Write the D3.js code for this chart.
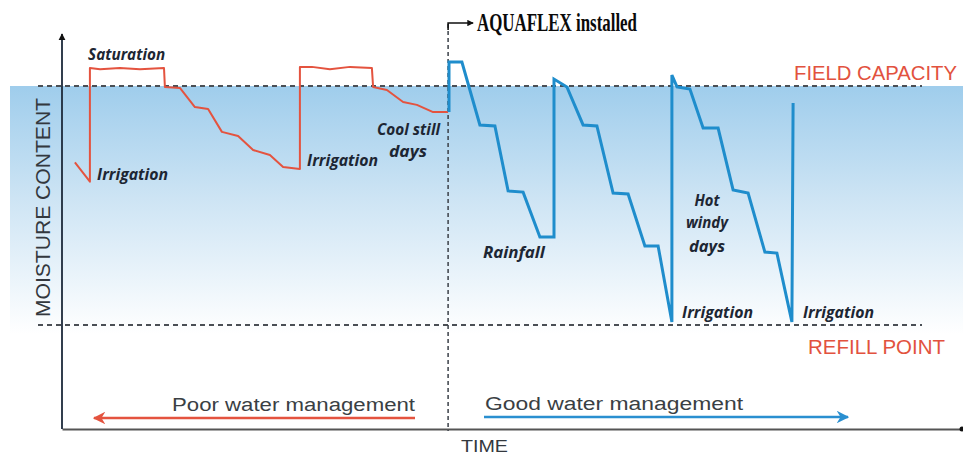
<!DOCTYPE html>
<html lang="en">
<head>
  <meta charset="UTF-8">
  <title>Moisture content over time</title>
  <style>
    body { margin: 0; background: #fff; }
    svg { display: block; }
  </style>
</head>
<body>
  <div id="chart"></div>

  <script src="https://d3js.org/d3.v7.min.js"></script>
  <script>

    // time in days, moisture in % of available water (0 = refill point, 100 = field capacity)
    const redTime = [4.3, 9.3, 9.3, 12.7, 19.3, 26, 34, 34.3, 39.3, 44.3, 48.7, 53.3, 58.7, 63.7, 69.3, 73.7, 79.3,
                     79.3, 83.3, 89.3, 96, 103.3, 103.7, 108.3, 113.7, 118.3, 123.7, 128.7];
    const redMoisture = [68, 60, 107.5, 107, 107.5, 107, 107.5, 99.6, 99.2, 91.2, 90.4, 80.8, 79.1, 73.2, 71.1, 66.1, 65.3,
                         108, 108, 107, 108, 107.5, 99.6, 98.3, 93.3, 92.1, 89.1, 89.1];

    const blueTime = [129, 129, 133.3, 139.3, 144.3, 148.7, 153.7, 159.3, 164,
                      164, 168.3, 173.7, 178.3, 183.7, 188.7, 194.3, 198.7, 203.3,
                      203.3, 205, 209.3, 213.7, 218.7, 223.7, 228.7, 234.3, 238.3, 243.3, 243.7];
    const blueMoisture = [89.1, 110, 110, 83.7, 83.3, 56.1, 55.6, 36.8, 36.8,
                          102.9, 99.6, 83.7, 83.3, 55.2, 54.8, 33.1, 33.1, 1.3,
                          104.6, 99.6, 98.7, 82.4, 82.4, 56.5, 55.2, 30.5, 30.1, 1.3, 92.9];

    const installedDay = 128.7;

    // annotation labels: text, time, moisture (baseline position)
    const noteText = ["Saturation", "Irrigation", "Irrigation", "Cool still", "days", "Rainfall",
                      "Hot", "windy", "days", "Irrigation", "Irrigation"];
    const noteTime = [8.7, 11.7, 81.7, 105, 109, 140.3, 215, 215, 215, 206.7, 247];
    const noteMoisture = [110.7, 60.7, 66.5, 79.5, 70.3, 28, 50, 40.4, 30.6, 2.9, 2.9];
    const noteWidth = [77, 71, 71, 63, 38, 62, 25, 42, 36, 71, 71];
    const noteAnchor = ["start", "start", "start", "start", "start", "start", "middle", "middle", "middle", "start", "start"];

    const width = 963,
          height = 457,
          margin = {top: 86, right: 1, bottom: 132, left: 62};

    const x = d3.scaleLinear([0, 300], [margin.left, width - margin.right]);
    const y = d3.scaleLinear([0, 100], [height - margin.bottom, margin.top]);
    const axisY = 429;

    const svg = d3.select("#chart")
      .append("svg")
      .attr("width", width)
      .attr("height", height)
      .attr("viewBox", [0, 0, width, height]);

    const defs = svg.append("defs");
    const grad = defs.append("linearGradient")
      .attr("id", "band")
      .attr("x1", 0).attr("y1", 0).attr("x2", 0).attr("y2", 1);
    grad.append("stop").attr("offset", "0%").attr("stop-color", "#9fcdec");
    grad.append("stop").attr("offset", "45%").attr("stop-color", "#cde4f4");
    grad.append("stop").attr("offset", "100%").attr("stop-color", "#ffffff");

    defs.append("marker")
      .attr("id", "arrowRed")
      .attr("viewBox", "0 0 10 10")
      .attr("refX", 9).attr("refY", 5)
      .attr("markerWidth", 5).attr("markerHeight", 5)
      .attr("markerUnits", "strokeWidth")
      .attr("orient", "auto")
      .append("path").attr("d", "M0,0 L10,5 L0,10 L3,5 Z").attr("fill", "#e4533f");
    defs.append("marker")
      .attr("id", "arrowBlue")
      .attr("viewBox", "0 0 10 10")
      .attr("refX", 9).attr("refY", 5)
      .attr("markerWidth", 5).attr("markerHeight", 5)
      .attr("markerUnits", "strokeWidth")
      .attr("orient", "auto")
      .append("path").attr("d", "M0,0 L10,5 L0,10 L3,5 Z").attr("fill", "#2a8fd0");
    defs.append("marker")
      .attr("id", "arrowDark")
      .attr("viewBox", "0 0 10 10")
      .attr("refX", 9).attr("refY", 5)
      .attr("markerWidth", 4).attr("markerHeight", 4)
      .attr("markerUnits", "strokeWidth")
      .attr("orient", "auto")
      .append("path").attr("d", "M0,0 L10,5 L0,10 Z").attr("fill", "#111");

    // blue band between field capacity and refill point
    svg.append("rect")
      .attr("x", 10)
      .attr("y", y(100))
      .attr("width", width - 10)
      .attr("height", y(-4) - y(100))
      .attr("fill", "url(#band)");

    // field capacity + refill point dashed lines
    svg.selectAll(".level")
      .data([100, 0])
      .join("line")
      .attr("class", "level")
      .attr("x1", 38)
      .attr("x2", 922)
      .attr("y1", d => y(d))
      .attr("y2", d => y(d))
      .attr("stroke", "#4a4f55")
      .attr("stroke-width", 1.8)
      .attr("stroke-dasharray", "5,4");

    // axes
    svg.append("g")
      .attr("transform", `translate(0,${axisY})`)
      .call(d3.axisBottom(x).ticks(0).tickSizeOuter(0))
      .call(g => g.select(".domain").attr("stroke", "#555").attr("stroke-width", 2));
    svg.append("circle")
      .attr("cx", x(300)).attr("cy", axisY).attr("r", 2.5).attr("fill", "#111");

    svg.append("line")
      .attr("x1", margin.left).attr("x2", margin.left)
      .attr("y1", axisY).attr("y2", 34)
      .attr("stroke", "#1c2a3a")
      .attr("stroke-width", 1.8)
      .attr("marker-end", "url(#arrowDark)");

    // AQUAFLEX installed marker
    svg.append("line")
      .attr("x1", x(installedDay)).attr("x2", x(installedDay))
      .attr("y1", 24).attr("y2", axisY + 2)
      .attr("stroke", "#3b4048")
      .attr("stroke-width", 1.5)
      .attr("stroke-dasharray", "4,3");
    svg.append("path")
      .attr("d", `M${x(installedDay)},30 V23 H${x(installedDay) + 25}`)
      .attr("fill", "none")
      .attr("stroke", "#111")
      .attr("stroke-width", 1.6)
      .attr("marker-end", "url(#arrowDark)");
    svg.append("text")
      .attr("x", 477)
      .attr("y", 31)
      .attr("textLength", 160)
      .attr("lengthAdjust", "spacingAndGlyphs")
      .style("font-family", "'Liberation Serif', serif")
      .style("font-weight", "bold")
      .style("font-size", "25px")
      .attr("fill", "#0a0a0a")
      .text("AQUAFLEX installed");

    // moisture lines
    const line = d3.line()
      .x(d => x(d[0]))
      .y(d => y(d[1]));

    svg.append("path")
      .datum(d3.zip(redTime, redMoisture))
      .attr("fill", "none")
      .attr("stroke", "#e4533f")
      .attr("stroke-width", 2)
      .attr("stroke-linejoin", "round")
      .attr("d", line);

    svg.append("path")
      .datum(d3.zip(blueTime, blueMoisture))
      .attr("fill", "none")
      .attr("stroke", "#1f8dcc")
      .attr("stroke-width", 3)
      .attr("stroke-linejoin", "miter")
      .attr("d", line);

    // annotations
    svg.selectAll(".note")
      .data(noteText)
      .join("text")
      .attr("class", "note")
      .attr("x", (d, i) => x(noteTime[i]))
      .attr("y", (d, i) => y(noteMoisture[i]))
      .attr("text-anchor", (d, i) => noteAnchor[i])
      .attr("textLength", (d, i) => noteWidth[i])
      .attr("lengthAdjust", "spacingAndGlyphs")
      .style("font-family", "'Open Sans', sans-serif")
      .style("font-weight", "bold")
      .style("font-style", "italic")
      .style("font-size", "16px")
      .attr("fill", "#1d2633")
      .text(d => d);

    // level labels
    svg.append("text")
      .attr("x", 794).attr("y", 80)
      .attr("textLength", 163)
      .attr("lengthAdjust", "spacingAndGlyphs")
      .style("font-family", "'Liberation Sans', sans-serif")
      .style("font-size", "21px")
      .attr("fill", "#e2523e")
      .text("FIELD CAPACITY");
    svg.append("text")
      .attr("x", 808).attr("y", 354)
      .attr("textLength", 137)
      .attr("lengthAdjust", "spacingAndGlyphs")
      .style("font-family", "'Liberation Sans', sans-serif")
      .style("font-size", "21px")
      .attr("fill", "#e2523e")
      .text("REFILL POINT");

    // axis labels
    svg.append("text")
      .attr("transform", "translate(50,317) rotate(-90)")
      .attr("textLength", 219)
      .attr("lengthAdjust", "spacingAndGlyphs")
      .style("font-family", "'Liberation Sans', sans-serif")
      .style("font-size", "20px")
      .attr("fill", "#33383e")
      .text("MOISTURE CONTENT");
    svg.append("text")
      .attr("x", 461).attr("y", 452)
      .attr("textLength", 47)
      .attr("lengthAdjust", "spacingAndGlyphs")
      .style("font-family", "'Liberation Sans', sans-serif")
      .style("font-size", "17px")
      .attr("fill", "#33383e")
      .text("TIME");

    // management arrows
    svg.append("text")
      .attr("x", 172).attr("y", 411)
      .attr("textLength", 243)
      .attr("lengthAdjust", "spacingAndGlyphs")
      .style("font-family", "'Liberation Sans', sans-serif")
      .style("font-size", "18px")
      .attr("fill", "#3a3f44")
      .text("Poor water management");
    svg.append("line")
      .attr("x1", 415).attr("x2", 94)
      .attr("y1", 418).attr("y2", 418)
      .attr("stroke", "#e4533f")
      .attr("stroke-width", 2.5)
      .attr("marker-end", "url(#arrowRed)");

    svg.append("text")
      .attr("x", 485).attr("y", 410)
      .attr("textLength", 258)
      .attr("lengthAdjust", "spacingAndGlyphs")
      .style("font-family", "'Liberation Sans', sans-serif")
      .style("font-size", "18px")
      .attr("fill", "#3a3f44")
      .text("Good water management");
    svg.append("line")
      .attr("x1", 484).attr("x2", 848)
      .attr("y1", 417).attr("y2", 417)
      .attr("stroke", "#2a8fd0")
      .attr("stroke-width", 2.5)
      .attr("marker-end", "url(#arrowBlue)");

  </script>
</body>
</html>
